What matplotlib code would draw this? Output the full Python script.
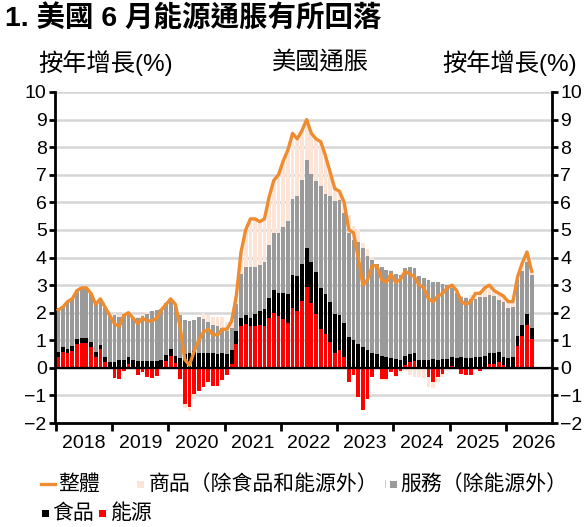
import numpy as np
import matplotlib
matplotlib.use("Agg")
import matplotlib.pyplot as plt
from matplotlib.lines import Line2D
from matplotlib.patches import Rectangle

plt.rcParams['font.family'] = ['Liberation Sans', 'Noto Sans CJK TC']

# monthly contributions to US CPI (ppt), Jan 2018 - Jun 2026
energy = [
    0.40, 0.58, 0.52, 0.60, 0.88, 0.90, 0.90, 0.76, 0.38, 0.67, 0.22, -0.02,
    -0.38, -0.40, -0.12, 0.13, -0.05, -0.26, -0.15, -0.33, -0.36, -0.31, -0.05, 0.24,
    0.42, 0.18, -0.40, -1.30, -1.42, -0.95, -0.83, -0.70, -0.52, -0.65, -0.65, -0.45,
    -0.25, 0.15, 0.85, 1.50, 1.60, 1.50, 1.50, 1.55, 1.52, 1.82, 2.00, 1.88,
    1.76, 1.64, 2.18, 2.06, 2.42, 2.93, 2.36, 1.94, 1.39, 1.21, 0.95, 0.55,
    0.64, 0.40, -0.53, -0.25, -1.05, -1.54, -1.12, -0.33, 0.00, -0.39, -0.42, -0.15,
    -0.30, -0.13, 0.12, 0.20, 0.25, 0.00, 0.00, -0.35, -0.50, -0.35, -0.22, -0.05,
    0.05, 0.00, -0.22, -0.27, -0.25, -0.05, -0.10, 0.00, 0.15, 0.15, 0.22, 0.10,
    0.00, 0.00, 0.80, 1.17, 1.55, 1.05,
]
food = [
    0.19, 0.18, 0.18, 0.18, 0.17, 0.18, 0.18, 0.18, 0.19, 0.17, 0.19, 0.22,
    0.22, 0.27, 0.28, 0.25, 0.27, 0.26, 0.23, 0.25, 0.25, 0.26, 0.27, 0.24,
    0.25, 0.25, 0.35, 0.50, 0.55, 0.60, 0.55, 0.55, 0.55, 0.52, 0.50, 0.52,
    0.51, 0.49, 0.47, 0.32, 0.30, 0.32, 0.46, 0.50, 0.62, 0.72, 0.82, 0.85,
    0.95, 1.05, 1.18, 1.26, 1.35, 1.40, 1.46, 1.53, 1.50, 1.46, 1.42, 1.39,
    1.28, 1.21, 1.13, 1.00, 0.86, 0.76, 0.64, 0.55, 0.50, 0.42, 0.38, 0.34,
    0.33, 0.30, 0.30, 0.30, 0.28, 0.30, 0.30, 0.28, 0.31, 0.28, 0.32, 0.33,
    0.35, 0.36, 0.38, 0.37, 0.37, 0.38, 0.38, 0.42, 0.40, 0.38, 0.35, 0.28,
    0.35, 0.40, 0.36, 0.40, 0.40, 0.40,
]
services = [
    1.57, 1.48, 1.74, 1.76, 1.77, 1.84, 1.82, 1.76, 1.73, 1.64, 1.75, 1.66,
    1.70, 1.57, 1.68, 1.58, 1.54, 1.54, 1.64, 1.70, 1.81, 1.83, 1.86, 1.86,
    1.77, 1.85, 1.58, 1.25, 1.13, 1.12, 1.28, 1.23, 1.10, 1.03, 1.00, 0.94,
    0.84, 0.81, 0.98, 1.58, 1.75, 1.83, 1.69, 1.67, 1.71, 1.91, 2.06, 2.15,
    2.38, 2.64, 2.76, 2.92, 3.04, 3.21, 3.20, 3.32, 3.71, 3.63, 3.85, 4.10,
    4.18, 4.00, 3.75, 3.64, 3.72, 3.59, 3.40, 3.37, 3.25, 3.23, 3.18, 3.16,
    3.07, 3.08, 3.20, 3.15, 3.10, 3.02, 2.96, 2.90, 2.81, 2.82, 2.73, 2.68,
    2.50, 2.36, 2.20, 2.15, 2.13, 2.12, 2.19, 2.16, 2.10, 2.09, 1.88, 2.00,
    1.83, 1.80, 2.02, 1.95, 1.87, 1.93,
]
goods = [
    -0.06, -0.04, -0.04, -0.04, -0.02, -0.02, 0.00, 0.00, 0.00, 0.02, 0.04, 0.04,
    0.06, 0.06, 0.06, 0.04, 0.04, 0.06, 0.08, 0.08, 0.00, 0.02, 0.02, -0.04,
    0.05, 0.00, -0.03, -0.15, -0.16, -0.17, 0.00, 0.22, 0.27, 0.30, 0.35, 0.39,
    0.30, 0.25, 0.30, 0.80, 1.35, 1.75, 1.75, 1.58, 1.55, 1.75, 1.92, 2.12,
    2.41, 2.57, 2.38, 2.06, 1.79, 1.46, 1.48, 1.51, 1.60, 1.40, 0.88, 0.46,
    0.30, 0.39, 0.65, 0.51, 0.47, 0.19, 0.28, 0.11, -0.05, -0.06, -0.04, 0.05,
    -0.05, -0.05, -0.12, -0.25, -0.33, -0.32, -0.36, -0.33, -0.22, -0.17, -0.13, -0.06,
    0.10, 0.08, 0.04, 0.05, 0.15, 0.25, 0.23, 0.32, 0.35, 0.18, 0.25, 0.22,
    0.22, 0.20, 0.12, 0.28, 0.38, 0.12,
]
headline = [
    2.1, 2.2, 2.4, 2.5, 2.8, 2.9, 2.9, 2.7, 2.3, 2.5, 2.2, 1.9,
    1.6, 1.5, 1.9, 2.0, 1.8, 1.6, 1.8, 1.7, 1.7, 1.8, 2.1, 2.3,
    2.5, 2.3, 1.5, 0.3, 0.1, 0.6, 1.0, 1.3, 1.4, 1.2, 1.2, 1.4,
    1.4, 1.7, 2.6, 4.2, 5.0, 5.4, 5.4, 5.3, 5.4, 6.2, 6.8, 7.0,
    7.5, 7.9, 8.5, 8.3, 8.6, 9.0, 8.5, 8.3, 8.2, 7.7, 7.1, 6.5,
    6.4, 6.0, 5.0, 4.9, 4.0, 3.0, 3.2, 3.7, 3.7, 3.2, 3.1, 3.4,
    3.1, 3.2, 3.5, 3.4, 3.3, 3.0, 2.9, 2.5, 2.4, 2.6, 2.7, 2.9,
    3.0, 2.8, 2.4, 2.3, 2.4, 2.7, 2.7, 2.9, 3.0, 2.8, 2.7, 2.6,
    2.4, 2.4, 3.3, 3.8, 4.2, 3.5,
]
years = [2018, 2019, 2020, 2021, 2022, 2023, 2024, 2025, 2026]

RED = '#FF0000'
BLACK = '#000000'
GRAY = '#9A9A9A'
PEACH = '#FCE4D6'
ORANGE = '#EE8C2F'

W, H = 587, 527
fig = plt.figure(figsize=(W / 100, H / 100), dpi=100)
ax = fig.add_axes([55 / W, 1 - 423 / H, (552 - 55) / W, (423 - 92) / H])

n = len(headline)
x = 2018 + (np.arange(n) + 0.5) / 12
bw = 0.8 / 12

pos = np.zeros(n)
neg = np.zeros(n)
for vals, col in [(energy, RED), (food, BLACK), (services, GRAY), (goods, PEACH)]:
    v = np.array(vals)
    bottom = np.where(v >= 0, pos, neg)
    ax.bar(x, v, width=bw, bottom=bottom, color=col, linewidth=0, zorder=2)
    pos += np.clip(v, 0, None)
    neg += np.clip(v, None, 0)

ax.axhline(0, color='black', linewidth=1.6, zorder=3)
ax.plot(x, headline, color=ORANGE, linewidth=2.4, zorder=4, solid_joinstyle='round')

ax.set_ylim(-2, 10)
ax.set_xlim(2017.985, 2026.82)
ax.set_yticks(range(-2, 11))
ax.grid(axis='y', color='#d6d6d6', linewidth=1.8)
ax.set_axisbelow(True)

ax.set_xticks(years)
ax.set_xticklabels([])
ax.set_xticks([y + 0.5 for y in years], minor=True)
ax.set_xticklabels([str(y) for y in years], minor=True, fontsize=14)
ax.tick_params(axis='x', which='major', direction='out', length=6, width=2)
ax.tick_params(axis='x', which='minor', length=0, pad=9)
ax.tick_params(axis='y', direction='out', length=4, width=2, labelsize=14,
               right=True, labelright=True, pad=2)

for s in ['left', 'right', 'bottom']:
    ax.spines[s].set_linewidth(2)
ax.spines['top'].set_visible(False)

fig.text(5 / W, 1 - 19 / H, '1. 美國 6 月能源通脹有所回落', fontsize=20.5,
         fontweight='bold', va='center', ha='left')
fig.text(38 / W, 1 - 63 / H, '按年增長(%)', fontsize=17.5, va='center', ha='left')
fig.text(320 / W, 1 - 63 / H, '美國通脹', fontsize=17.5, va='center', ha='center')
fig.text(577 / W, 1 - 63 / H, '按年增長(%)', fontsize=17.5, va='center', ha='right')

# legend drawn by hand
def square(px, py, col, w=7):
    fig.add_artist(Rectangle((px / W, 1 - (py + w / 2) / H), w / W, w / H,
                             transform=fig.transFigure, color=col, linewidth=0))

def label(px, py, txt):
    fig.text(px / W, 1 - py / H, txt, fontsize=15, va='center', ha='left')

r1, r2 = 484, 513
fig.add_artist(Line2D([41 / W, 55 / W], [1 - r1 / H, 1 - r1 / H], color=ORANGE,
                      linewidth=2.4, transform=fig.transFigure))
label(58, r1, '整體')
square(137, r1, PEACH)
label(149, r1, '商品（除食品和能源外）')
fig.add_artist(Rectangle((385 / W, 1 - (r1 + 4) / H), 1 / W, 8 / H,
                         transform=fig.transFigure, color='#d0d0d0', linewidth=0))
square(390, r1, GRAY)
label(400, r1, '服務（除能源外）')
square(42, r2, BLACK)
label(52, r2, '食品')
square(99, r2, RED)
label(110, r2, '能源')

fig.savefig('out.png', dpi=100)
